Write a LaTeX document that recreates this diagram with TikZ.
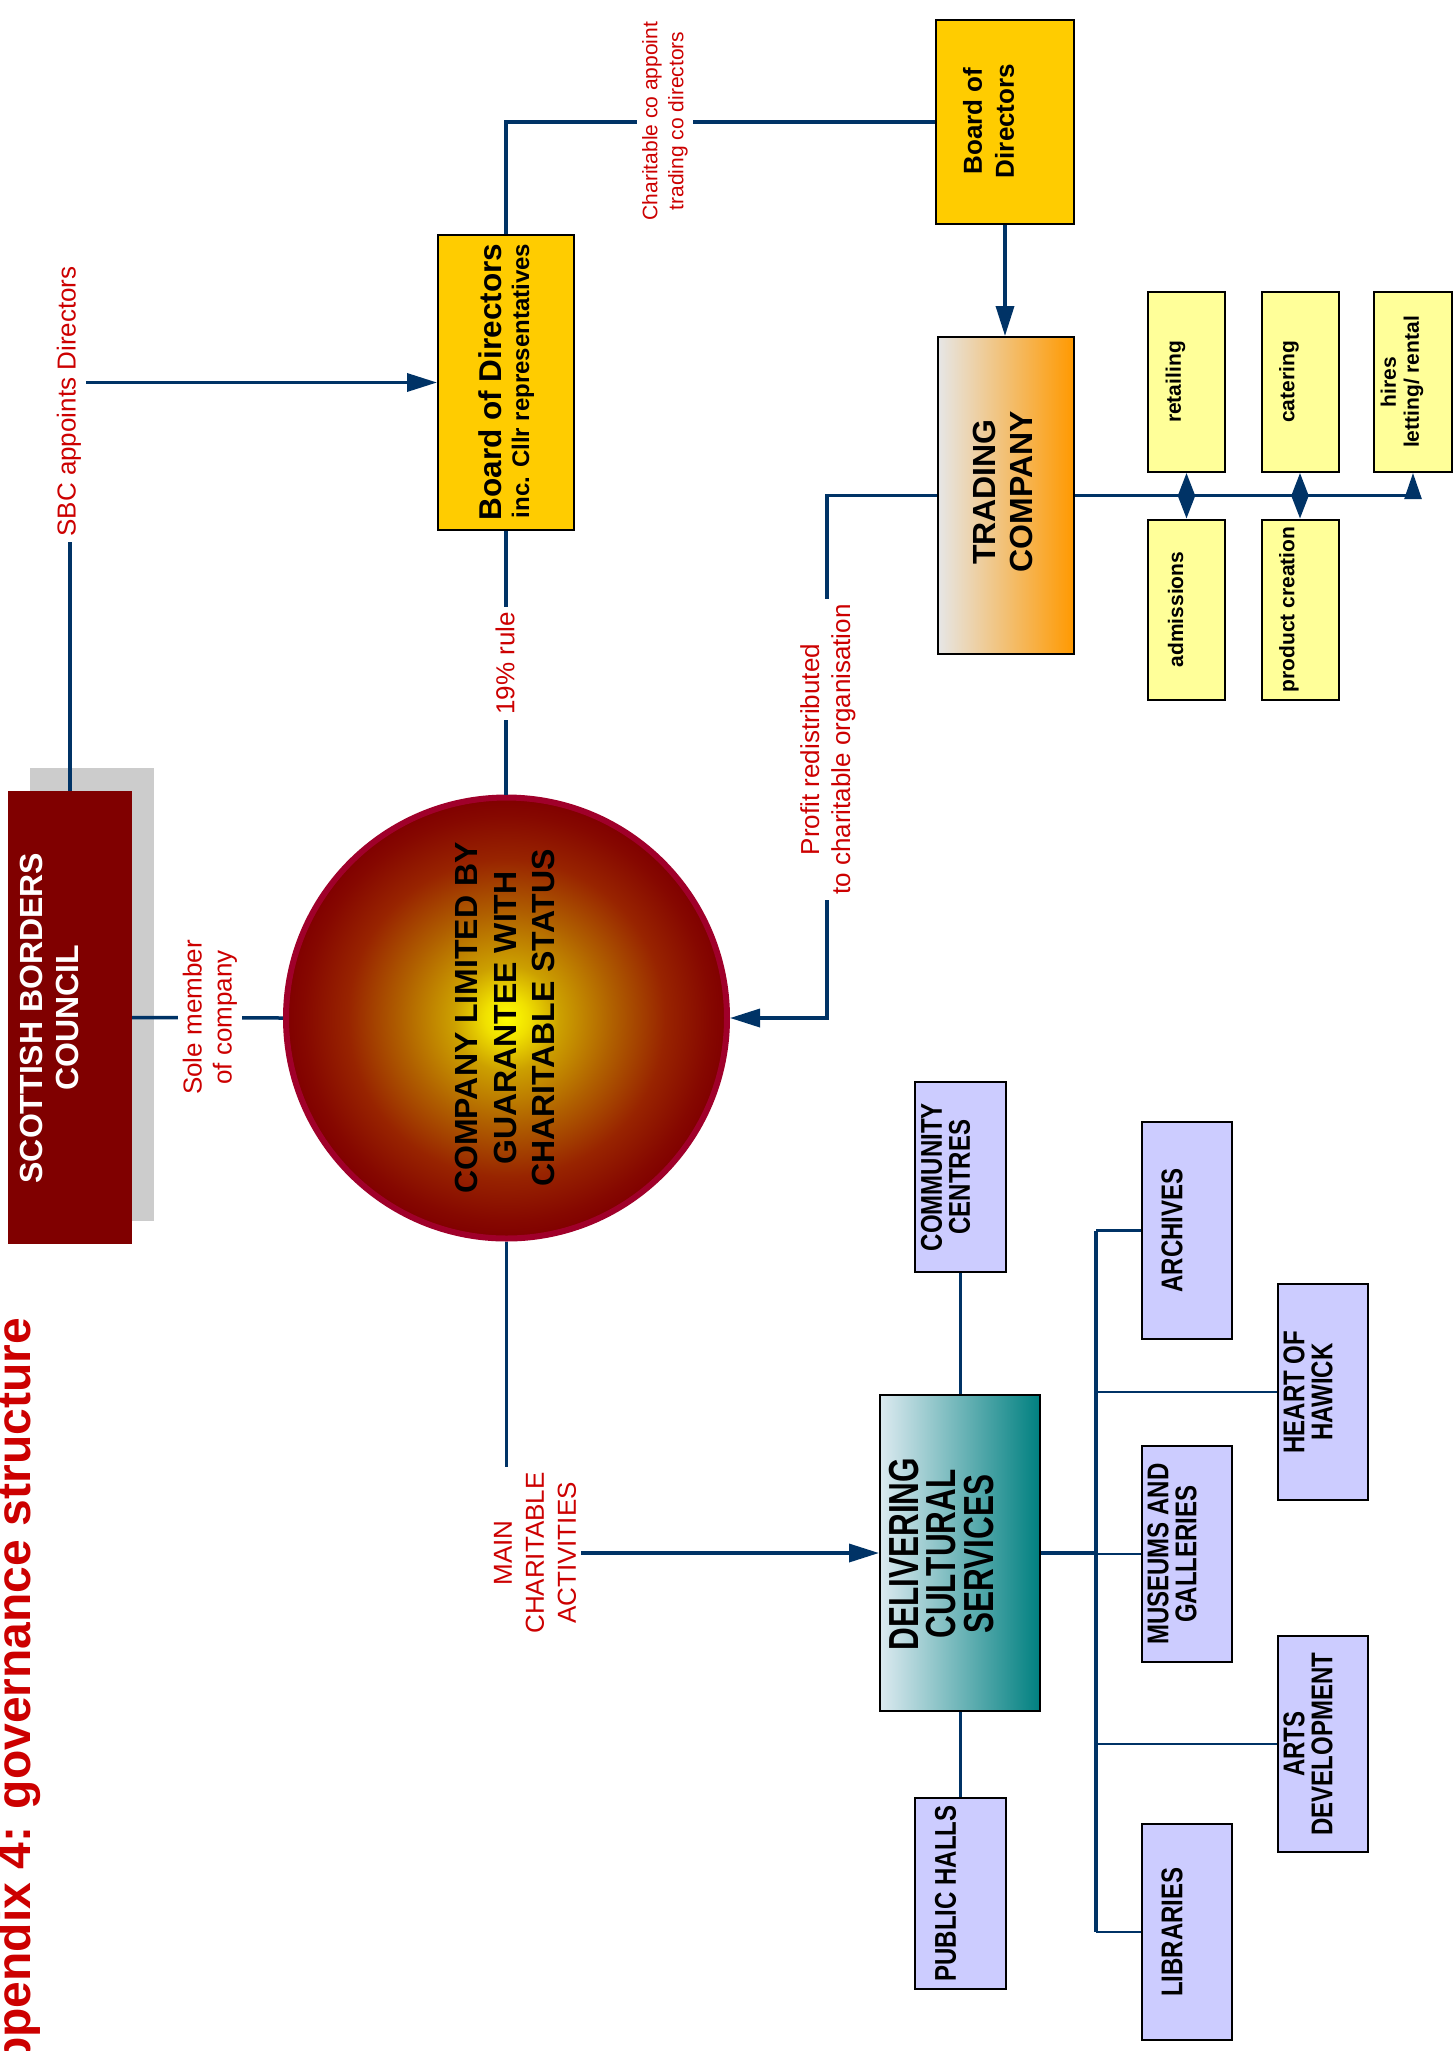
\documentclass[tikz,border=0pt]{standalone}
\usepackage{fontspec}
\setmainfont{Liberation Sans}
\newfontfamily\narrowfont[FakeStretch=0.8]{Liberation Sans}
\newfontfamily\delivfont[FakeStretch=0.75]{Liberation Sans}
\usetikzlibrary{arrows.meta,calc}
\definecolor{navy}{HTML}{003366}
\definecolor{lblred}{HTML}{CC0000}
\definecolor{sbcred}{HTML}{800000}
\definecolor{shadowgray}{HTML}{CCCCCC}
\definecolor{boardyellow}{HTML}{FFCC00}
\definecolor{paleyellow}{HTML}{FFFF99}
\definecolor{lilac}{HTML}{CCCCFF}
\definecolor{crimson}{HTML}{A0002A}
\definecolor{tradegray}{HTML}{E6E6E6}
\definecolor{tradeorange}{HTML}{FF9900}
\definecolor{delivlight}{HTML}{DCEAF0}
\definecolor{delivteal}{HTML}{008080}
\definecolor{ballA}{HTML}{FFFF00}
\definecolor{ballB}{HTML}{F0E000}
\definecolor{ballC}{HTML}{CCA000}
\definecolor{ballD}{HTML}{B06000}
\definecolor{ballE}{HTML}{982400}
\definecolor{ballF}{HTML}{860800}
\definecolor{ballG}{HTML}{800000}
\pgfdeclareradialshading{companyball}{\pgfpoint{0bp}{0bp}}{%
  color(0bp)=(ballA); color(2.5bp)=(ballB); color(6bp)=(ballC);
  color(12bp)=(ballD); color(18bp)=(ballE); color(23bp)=(ballF);
  color(25bp)=(ballG); color(50bp)=(ballG)}
\tikzset{
  conn/.style={draw=navy, line width=3.5pt},
  thinconn/.style={draw=navy, line width=2.5pt},
  bigtip/.style={-{Triangle[length=30pt,width=18pt]}},
  smalltip/.style={-{Triangle[length=23pt,width=17pt]}},
  boxline/.style={draw=black, line width=2pt, inner sep=0pt},
  lbl/.style={text=lblred, fill=white, rotate=90, align=center,
    font=\fontsize{26}{31}\selectfont, inner sep=5pt},
  vtext/.style={rotate=90, align=center, inner sep=0pt},
  smallbox/.style={boxline, fill=paleyellow, minimum width=77pt, minimum height=180pt},
  smalltext/.style={vtext, font=\bfseries\fontsize{21}{23}\selectfont},
  lilacbox/.style={boxline, fill=lilac, minimum width=90pt, minimum height=216pt},
  lilactext/.style={vtext, font=\narrowfont\bfseries\fontsize{30}{28}\selectfont},
}
\begin{document}
\begin{tikzpicture}[x=1pt,y=-1pt]
\useasboundingbox (0,0) rectangle (1453,2051);
\fill[white] (0,0) rectangle (1453,2051);

% title
\node[vtext, anchor=base east, text=lblred, font=\bfseries\fontsize{48}{52}\selectfont] (title) at (30,1318) {Appendix 4: governance structure};

% Scottish Borders Council
\node[fill=shadowgray, minimum width=124pt, minimum height=453pt, inner sep=0pt] (sbcshadow) at (92,994.5) {};
\node[fill=sbcred, minimum width=124pt, minimum height=453pt, inner sep=0pt] (sbc) at (70,1017.5) {};

% boards and companies
\node[boxline, fill=boardyellow, minimum width=136pt, minimum height=295pt] (board) at (506,382.5) {};
\node[boxline, fill=boardyellow, minimum width=138pt, minimum height=204pt] (rboard) at (1005,122) {};
\node[boxline, left color=tradegray, right color=tradeorange, minimum width=136pt, minimum height=317pt] (trade) at (1006,495.5) {};
\node[circle, inner sep=0pt, minimum size=441pt, draw=crimson, line width=6pt, shading=companyball] (company) at (506.5,1018) {};
\node[boxline, left color=delivlight, right color=delivteal, minimum width=160pt, minimum height=316pt] (deliv) at (960,1553) {};

% trading activities
\node[smallbox] (retail) at (1186.5,382) {};
\node[smallbox] (cater) at (1300,382) {};
\node[smallbox, minimum width=78pt] (hires) at (1413,382) {};
\node[smallbox] (admis) at (1186.5,609.5) {};
\node[smallbox] (prod) at (1300,609.5) {};

% cultural services
\node[lilacbox, minimum width=91pt, minimum height=190pt] (community) at (960.5,1177) {};
\node[lilacbox, minimum width=91pt, minimum height=191pt] (public) at (960.5,1893.5) {};
\node[lilacbox, minimum height=217pt] (archives) at (1187,1230.5) {};
\node[lilacbox] (museums) at (1187,1554) {};
\node[lilacbox] (libraries) at (1187,1932) {};
\node[lilacbox] (heart) at (1323,1392) {};
\node[lilacbox] (arts) at (1323,1744) {};

% connectors
\draw[conn, bigtip] (sbc.north) |- (board.west);
\draw[conn] (sbc.east) -- (company.west);
\draw[conn] (board.south) -- (board.south |- company.north);
\draw[conn] (board.north) |- (rboard.west);
\draw[conn, bigtip] (rboard.south) -- (rboard.south |- trade.north);
\coordinate (profitcorner) at (827,495.5);
\draw[conn, bigtip] (trade.west) -- (profitcorner) |- (company.east);
\draw[conn, bigtip] (company.south) |- (deliv.west);
\draw[conn] (community.south) -- (community.south |- deliv.north);
\draw[conn] (public.north) -- (public.north |- deliv.south);
\coordinate (bustop) at (1096,1229);
\draw[conn] (deliv.east) -- (deliv.east -| bustop);
\draw[conn] (bustop |- archives.west) -- (bustop |- libraries.west);
\draw[thinconn] (bustop |- archives.west) -- (archives.west);
\draw[thinconn] (bustop |- heart.west) -- (heart.west);
\draw[thinconn] (bustop |- museums.west) -- (museums.west);
\draw[thinconn] (bustop |- arts.west) -- (arts.west);
\draw[thinconn] (bustop |- libraries.west) -- (libraries.west);

\draw[thinconn] (trade.east) -- (trade.east -| hires.south);
\draw[thinconn, smalltip] (retail.south |- trade.east) -- (retail.south);
\draw[thinconn, smalltip] (admis.north |- trade.east) -- (admis.north);
\draw[thinconn, smalltip] (cater.south |- trade.east) -- (cater.south);
\draw[thinconn, smalltip] (prod.north |- trade.east) -- (prod.north);
\draw[thinconn, -{Triangle[length=26pt,width=17pt]}] ([yshift=-3pt]hires.south |- trade.east) -- (hires.south);

% connector labels
\node[lbl] (lsbc) at (69,401.5) {SBC appoints Directors};
\node[lbl, font=\fontsize{26}{30}\selectfont] (lsole) at (210,1017.5) {Sole member\\of company};
\node[lbl] (lrule) at (505,663.5) {19\% rule};
\node[lbl, font=\fontsize{21}{26}\selectfont] (lchar) at (665,121) {Charitable co appoint\\trading co directors};
\node[lbl] (lprofit) at (828,749.5) {Profit redistributed\\to charitable organisation};
\node[lbl, font=\fontsize{26}{32}\selectfont] (lmain) at (535,1553) {MAIN\\CHARITABLE\\ACTIVITIES};

% box texts
\node[vtext, text=white, font=\bfseries\fontsize{32}{36}\selectfont] (sbctext) at (49,1018) {SCOTTISH BORDERS\\COUNCIL};
\node[vtext, anchor=base, font=\bfseries\fontsize{31.5}{34}\selectfont] (boardt1) at (501,382) {Board of Directors};
\node[vtext, anchor=base, font=\bfseries\fontsize{24}{26}\selectfont] (boardt2) at (529,381) {inc. Cllr representatives};
\node[vtext, font=\bfseries\fontsize{26}{32}\selectfont] (rboardtext) at (988.5,121) {Board of\\Directors};
\node[vtext, font=\bfseries\fontsize{32}{37}\selectfont] (tradetext) at (1003,492) {TRADING\\COMPANY};
\node[vtext, font=\bfseries\fontsize{32}{38.5}\selectfont] (companytext) at (505,1018) {COMPANY LIMITED BY\\GUARANTEE WITH\\CHARITABLE STATUS};
\node[vtext, font=\delivfont\bfseries\fontsize{42}{37.5}\selectfont] (delivtext) at (941.5,1554) {DELIVERING\\CULTURAL\\SERVICES};

\node[smalltext] (retailtext) at ([xshift=-11pt]retail.center) {retailing};
\node[smalltext] (catertext) at ([xshift=-11pt]cater.center) {catering};
\node[smalltext] (hirestext) at ([xshift=-11pt]hires.center) {hires\\letting/ rental};
\node[smalltext] (admistext) at ([xshift=-11pt]admis.center) {admissions};
\node[smalltext] (prodtext) at ([xshift=-11pt]prod.center) {product creation};

\node[lilactext] (communitytext) at ([xshift=-15pt]community.center) {COMMUNITY\\CENTRES};
\node[lilactext] (publictext) at ([xshift=-15pt]public.center) {PUBLIC HALLS};
\node[lilactext] (archivestext) at ([xshift=-15pt]archives.center) {ARCHIVES};
\node[lilactext] (museumstext) at ([xshift=-15pt]museums.center) {MUSEUMS AND\\GALLERIES};
\node[lilactext] (librariestext) at ([xshift=-15pt]libraries.center) {LIBRARIES};
\node[lilactext] (hearttext) at ([xshift=-15pt]heart.center) {HEART OF\\HAWICK};
\node[lilactext] (artstext) at ([xshift=-15pt]arts.center) {ARTS\\DEVELOPMENT};
\end{tikzpicture}
\end{document}
